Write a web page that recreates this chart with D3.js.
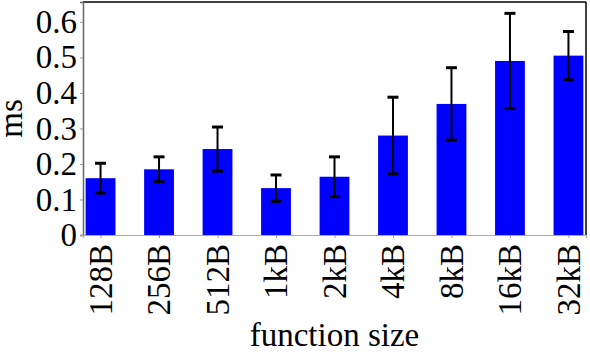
<!DOCTYPE html>
<html>
<head>
<meta charset="utf-8">
<script src="https://cdn.jsdelivr.net/npm/d3@7"></script>
<style>
  body { margin: 0; background: #fff; }
</style>
</head>
<body>
<div id="chart"></div>
<script>
const sizes  = ["128B", "256B", "512B", "1kB", "2kB", "4kB", "8kB", "16kB", "32kB"];
const means  = [0.160, 0.185, 0.242, 0.132, 0.164, 0.280, 0.369, 0.490, 0.505];
const errors = [0.042, 0.035, 0.062, 0.037, 0.056, 0.108, 0.102, 0.134, 0.068];
const yTicks = [0, 0.1, 0.2, 0.3, 0.4, 0.5, 0.6];

const dims = { width: 590, height: 352, left: 83, right: 4, top: 2, bottom: 117 };
const plotW = dims.width - dims.left - dims.right;
const plotH = dims.height - dims.top - dims.bottom;

const svg = d3.select("#chart").append("svg")
  .attr("width", dims.width).attr("height", dims.height)
  .attr("font-family", "Liberation Serif").attr("font-size", 33);

const x = d3.scalePoint().domain(sizes).range([0, plotW]).padding(0.3);
const y = d3.scaleLinear([0, 0.656], [plotH, 0]);
const barW = x.step() * 0.51;

const g = svg.append("g").attr("transform", `translate(${dims.left} ${dims.top})`);

const rows = sizes.map((s, i) => ({ s, m: means[i], e: errors[i] }));

// bars
g.selectAll("rect.bar").data(rows).join("rect")
  .attr("class", "bar")
  .attr("x", d => x(d.s) - barW / 2)
  .attr("width", barW)
  .attr("y", d => y(d.m))
  .attr("height", d => plotH - y(d.m))
  .attr("fill", "#0000ff");

// frame: top/right black, axes grey
g.append("line").attr("x1", 0).attr("x2", plotW).attr("y1", 0).attr("y2", 0)
  .attr("stroke", "#000").attr("stroke-width", 1.5);
g.append("line").attr("x1", plotW).attr("x2", plotW).attr("y1", 0).attr("y2", plotH)
  .attr("stroke", "#000").attr("stroke-width", 1.5);

const yAxis = g.append("g")
  .call(d3.axisLeft(y).tickValues(yTicks).tickFormat(d3.format("")).tickSize(3).tickPadding(3));
yAxis.attr("font-family", "Liberation Serif").attr("font-size", 33);
yAxis.select(".domain").attr("stroke", "#666").attr("stroke-width", 1.5);
yAxis.selectAll(".tick line").attr("stroke", "#999");
yAxis.selectAll("text").attr("fill", "#000");

const xAxis = g.append("g").attr("transform", `translate(0 ${plotH})`)
  .call(d3.axisBottom(x).tickSize(3).tickPadding(0));
xAxis.attr("font-family", "Liberation Serif").attr("font-size", 33);
xAxis.select(".domain").attr("stroke", "#aaa").attr("stroke-width", 1.2);
xAxis.selectAll(".tick line").attr("stroke", "#999");
xAxis.selectAll("text")
  .attr("fill", "#000")
  .attr("text-anchor", "end")
  .attr("transform", "rotate(-90)")
  .attr("x", -9).attr("y", 0).attr("dy", "0.33em");

// error bars
const eb = g.selectAll("g.err").data(rows).join("g").attr("class", "err");
eb.append("line")
  .attr("x1", d => x(d.s)).attr("x2", d => x(d.s))
  .attr("y1", d => y(d.m + d.e)).attr("y2", d => y(d.m - d.e))
  .attr("stroke", "#000").attr("stroke-width", 2);
eb.selectAll("line.cap").data(d => [d.m + d.e, d.m - d.e].map(v => ({ s: d.s, v })))
  .join("line").attr("class", "cap")
  .attr("x1", d => x(d.s) - 5.5).attr("x2", d => x(d.s) + 5.5)
  .attr("y1", d => y(d.v)).attr("y2", d => y(d.v))
  .attr("stroke", "#000").attr("stroke-width", 3);

// axis titles
svg.append("text")
  .attr("transform", `translate(${dims.left + plotW / 2} 346)`)
  .attr("text-anchor", "middle")
  .text("function size");
svg.append("text")
  .attr("transform", `translate(22 ${dims.top + plotH / 2}) rotate(-90)`)
  .attr("text-anchor", "middle")
  .text("ms");
</script>
</body>
</html>
